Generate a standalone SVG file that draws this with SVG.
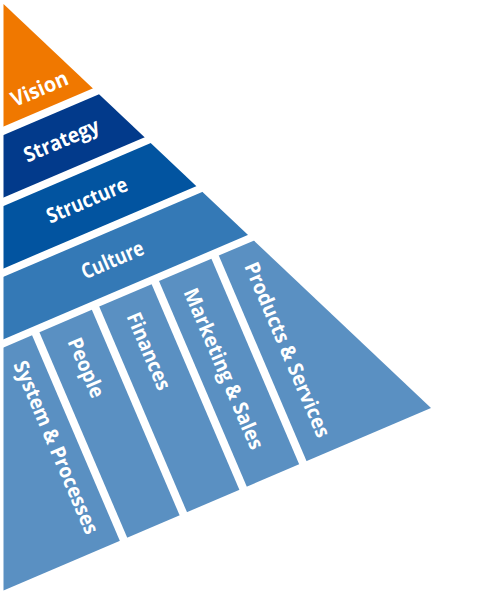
<svg xmlns="http://www.w3.org/2000/svg" width="500" height="600" viewBox="0 0 500 600">
  <defs>
    <clipPath id="pyr" clipPathUnits="userSpaceOnUse">
      <polygon points="3.5,4 431,408 3.5,590.5"/>
    </clipPath>
  </defs>
  <style>
    .lbl { fill: #ffffff; font-family: "Open Sans", "DejaVu Sans", sans-serif; font-weight: 700; }
    .top { font-size: 21px; text-anchor: middle; }
    .col { font-size: 20.5px; text-anchor: start; }
    .vision { fill: #F07800; }
    .strategy { fill: #023A8B; }
    .structure { fill: #0254A0; }
    .culture { fill: #3479B6; }
    .pillar { fill: #5A90C2; }
  </style>
  <rect x="0" y="0" width="500" height="600" fill="#ffffff"/>
  <g clip-path="url(#pyr)">
    <g transform="translate(3.5,590.5) rotate(-23.12)">
      <g id="vision">
        <rect class="vision" x="-300" y="-800" width="900" height="373.4"/>
        <text class="lbl top" x="230" y="-440" textLength="60" lengthAdjust="spacingAndGlyphs">Vision</text>
      </g>
      <g id="strategy">
        <rect class="strategy" x="-300" y="-418.9" width="900" height="57.5"/>
        <text class="lbl top" x="230" y="-384" textLength="80" lengthAdjust="spacingAndGlyphs">Strategy</text>
      </g>
      <g id="structure">
        <rect class="structure" x="-300" y="-353.7" width="900" height="57.5"/>
        <text class="lbl top" x="230" y="-319" textLength="86" lengthAdjust="spacingAndGlyphs">Structure</text>
      </g>
      <g id="culture">
        <rect class="culture" x="-300" y="-288.5" width="900" height="57.5"/>
        <text class="lbl top" x="230" y="-254" textLength="66" lengthAdjust="spacingAndGlyphs">Culture</text>
      </g>
      <g id="system-processes">
        <rect class="pillar" x="-300" y="-223.5" width="426.5" height="240"/>
        <text class="lbl col" transform="translate(97.5,-204) rotate(90)" textLength="186" lengthAdjust="spacingAndGlyphs">System &amp; Processes</text>
      </g>
      <g id="people">
        <rect class="pillar" x="134.5" y="-223.5" width="57" height="240"/>
        <text class="lbl col" transform="translate(156.5,-204) rotate(90)" textLength="63" lengthAdjust="spacingAndGlyphs">People</text>
      </g>
      <g id="finances">
        <rect class="pillar" x="199.5" y="-223.5" width="57" height="240"/>
        <text class="lbl col" transform="translate(220.5,-204) rotate(90)" textLength="82" lengthAdjust="spacingAndGlyphs">Finances</text>
      </g>
      <g id="marketing-sales">
        <rect class="pillar" x="264.5" y="-223.5" width="57" height="240"/>
        <text class="lbl col" transform="translate(282.5,-204) rotate(90)" textLength="173" lengthAdjust="spacingAndGlyphs">Marketing &amp; Sales</text>
      </g>
      <g id="products-services">
        <rect class="pillar" x="329.5" y="-223.5" width="300" height="240"/>
        <text class="lbl col" transform="translate(348.5,-204) rotate(90)" textLength="188" lengthAdjust="spacingAndGlyphs">Products &amp; Services</text>
      </g>
    </g>
  </g>
  <g id="connectors"/>
</svg>
